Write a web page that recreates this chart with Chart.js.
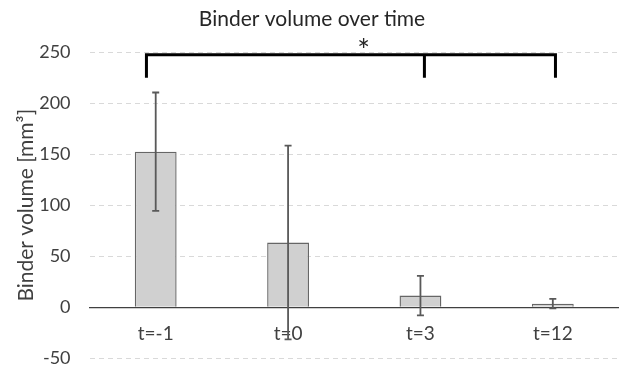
<!DOCTYPE html>
<html>
<head>
<meta charset="utf-8">
<script src="https://cdn.jsdelivr.net/npm/chart.js@4"></script>
<style>
  html, body { margin: 0; padding: 0; background: #fff; }
  #wrap { width: 619px; height: 366px; }
</style>
</head>
<body>
<div id="wrap"><canvas id="binderChart"></canvas></div>
<script>
// data
const categories = ['t=-1', 't=0', 't=3', 't=12'];
const binderVolume = [152.5, 63.5, 11.5, 3.6];
const binderErr = [58, 95, 19.3, 4.7];

// significance bracket: category positions, top level and foot level
const bracketX = [-0.07, 2.03, 3.02];
const bracketTop = 247.5;
const bracketFoot = 225;
const starX = 1.57;
const starY = 241;
const bracketLabel = '*';

const FONT = 'Lato, "Open Sans", sans-serif';

// error bars with caps
const errorBars = {
  id: 'errorBars',
  afterDatasetsDraw(chart) {
    const { ctx, scales: { x, y } } = chart;
    ctx.save();
    ctx.strokeStyle = '#595959';
    ctx.lineWidth = 1.8;
    binderVolume.forEach((v, i) => {
      const px = x.getPixelForValue(i);
      const top = y.getPixelForValue(v + binderErr[i]);
      const bot = y.getPixelForValue(v - binderErr[i]);
      ctx.beginPath();
      ctx.moveTo(px, top); ctx.lineTo(px, bot);
      ctx.moveTo(px - 3.5, top); ctx.lineTo(px + 3.5, top);
      ctx.moveTo(px - 3.5, bot); ctx.lineTo(px + 3.5, bot);
      ctx.stroke();
    });
    ctx.restore();
  }
};

// bracket + star
const sigBracket = {
  id: 'sigBracket',
  afterDraw(chart) {
    const { ctx, scales: { x, y } } = chart;
    const yt = y.getPixelForValue(bracketTop);
    const yf = y.getPixelForValue(bracketFoot);
    const xs = bracketX.map(v => x.getPixelForValue(v));
    ctx.save();
    ctx.strokeStyle = '#000';
    ctx.lineWidth = 3;
    ctx.beginPath();
    ctx.moveTo(xs[0], yf); ctx.lineTo(xs[0], yt);
    ctx.lineTo(xs[xs.length - 1], yt); ctx.lineTo(xs[xs.length - 1], yf);
    for (let k = 1; k < xs.length - 1; k++) {
      ctx.moveTo(xs[k], yt); ctx.lineTo(xs[k], yf);
    }
    ctx.stroke();
    ctx.fillStyle = '#262626';
    ctx.font = '30px ' + FONT;
    ctx.textAlign = 'center';
    ctx.textBaseline = 'alphabetic';
    ctx.fillText(bracketLabel, x.getPixelForValue(starX), y.getPixelForValue(starY));
    ctx.restore();
  }
};

new Chart(document.getElementById('binderChart'), {
  type: 'bar',
  data: {
    labels: categories,
    datasets: [{
      data: binderVolume,
      backgroundColor: '#d0d0d0',
      borderColor: '#666666',
      borderWidth: 1.4,
      categoryPercentage: 1,
      barPercentage: 0.316
    }]
  },
  options: {
    responsive: true,
    maintainAspectRatio: false,
    animation: false,
    layout: { padding: { top: 0, right: 0, bottom: 0, left: 5 } },
    plugins: {
      legend: { display: false },
      tooltip: { enabled: false },
      title: {
        display: true,
        text: 'Binder volume over time',
        color: '#262626',
        font: { family: FONT, size: 21, weight: 'normal' },
        padding: { top: 7, bottom: 20 }
      }
    },
    scales: {
      x: {
        position: { y: 0 },
        afterFit: (scale) => { scale.height = 0; },
        grid: { display: false, drawTicks: false },
        border: { display: true, color: '#404040', width: 1.2 },
        ticks: { color: '#404040', font: { family: FONT, size: 19 }, padding: 15 }
      },
      y: {
        min: -50,
        max: 250,
        ticks: { stepSize: 50, color: '#404040', font: { family: FONT, size: 18, lineHeight: 0.85 }, padding: 0 },
        grid: { color: '#d9d9d9', lineWidth: 1, drawTicks: true, tickLength: 19, tickColor: 'rgba(0,0,0,0)' },
        border: { display: false, dash: [5, 4] },
        title: {
          display: true,
          text: 'Binder volume [mm³]',
          color: '#404040',
          font: { family: FONT, size: 21 },
          padding: { top: 9, bottom: 0 }
        }
      }
    }
  },
  plugins: [errorBars, sigBracket]
});
</script>
</body>
</html>
